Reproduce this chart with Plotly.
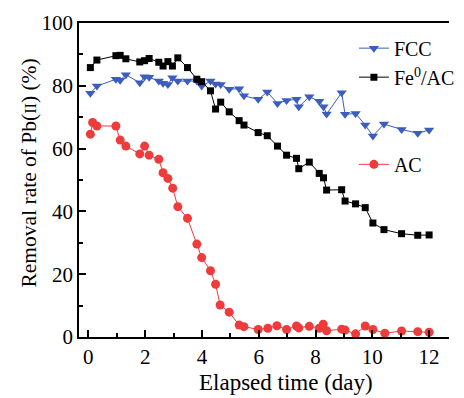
import plotly.graph_objects as go

# Sampling times (day) shared by the FCC and Fe0/AC columns
t_main = [0.07, 0.30, 0.97, 1.12, 1.32, 1.81, 1.98, 2.14, 2.48, 2.63, 2.80, 2.96,
          3.15, 3.49, 3.82, 3.99, 4.30, 4.48, 4.66, 4.96, 5.31, 5.48, 5.98, 6.30,
          6.66, 6.98, 7.33, 7.41, 7.78, 8.13, 8.28, 8.39, 8.92, 9.04, 9.41, 9.75,
          10.02, 10.41, 11.03, 11.60, 12.00]

fcc = [77.6, 79.9, 82.1, 81.8, 83.5, 81.0, 82.9, 82.7, 81.5, 80.8, 80.4, 82.6,
       81.5, 81.5, 81.5, 79.9, 81.5, 80.6, 80.4, 78.9, 79.1, 76.8, 75.7, 78.0,
       74.4, 75.3, 75.7, 73.3, 76.5, 75.1, 73.3, 71.0, 77.8, 70.9, 71.2, 67.5,
       64.0, 67.8, 66.1, 64.9, 65.9]

fe_ac = [85.8, 88.2, 89.6, 89.7, 88.6, 87.6, 88.0, 88.7, 87.5, 86.3, 87.7, 86.3,
         88.9, 85.8, 82.1, 81.3, 78.4, 72.6, 74.8, 71.7, 68.9, 67.5, 65.1, 64.1,
         60.8, 57.9, 56.9, 53.6, 55.7, 52.1, 50.7, 46.8, 46.9, 43.3, 42.4, 41.2,
         36.3, 34.2, 32.9, 32.4, 32.5]

# AC column has one extra early sample
t_ac = [0.07, 0.15, 0.30, 0.97, 1.12, 1.32, 1.81, 1.98, 2.14, 2.48, 2.63, 2.80,
        2.97, 3.15, 3.49, 3.82, 3.99, 4.30, 4.48, 4.64, 4.96, 5.31, 5.48, 5.98,
        6.32, 6.64, 6.98, 7.33, 7.41, 7.78, 8.13, 8.27, 8.39, 8.92, 9.04, 9.41,
        9.75, 10.02, 10.44, 11.03, 11.60, 12.00]

ac = [64.6, 68.3, 67.2, 67.2, 62.7, 60.8, 58.3, 60.8, 57.9, 56.6, 52.3, 50.5,
      47.4, 41.5, 37.8, 29.6, 25.3, 21.1, 16.8, 10.2, 7.9, 3.8, 3.3, 2.4,
      2.8, 3.6, 2.4, 3.5, 2.9, 3.4, 2.8, 4.1, 2.0, 2.5, 2.2, 1.0,
      3.5, 2.4, 1.2, 1.9, 1.7, 1.5]

BLUE = "#3A5DBE"
RED = "#EE3B3B"
FONT = "Liberation Serif"

fig = go.Figure()
fig.add_trace(go.Scatter(
    x=t_main, y=fcc, name="FCC", mode="lines+markers",
    line=dict(color=BLUE, width=1),
    marker=dict(symbol="triangle-down", size=9, color=BLUE),
    legend="legend", legendgroup="a"))
fig.add_trace(go.Scatter(
    x=t_main, y=fe_ac, name="Fe<sup>0</sup>/AC", mode="lines+markers",
    line=dict(color="black", width=1),
    marker=dict(symbol="square", size=7, color="black"),
    legend="legend", legendgroup="b"))
fig.add_trace(go.Scatter(
    x=t_ac, y=ac, name="AC", mode="lines+markers",
    line=dict(color=RED, width=1),
    marker=dict(symbol="circle", size=9, color=RED),
    legend="legend2", legendgroup="c"))

axis_common = dict(
    showline=True, linecolor="black", linewidth=1.5,
    ticks="inside", tickcolor="black", tickwidth=1.5,
    showgrid=False, zeroline=False,
    tickfont=dict(family=FONT, size=21, color="black"),
)

fig.update_xaxes(
    **axis_common, range=[-0.33, 12.7], dtick=2, tick0=0, ticklen=7,
    mirror=True,
    minor=dict(ticks="inside", dtick=1, tick0=0, ticklen=4, tickcolor="black", tickwidth=1.5),
)
fig.update_yaxes(
    **axis_common, range=[0, 100], dtick=20, ticklen=7,
    minor=dict(ticks="inside", dtick=10, ticklen=4, tickcolor="black", tickwidth=1.5),
)

# Axis titles placed as paper-anchored annotations
title_font = dict(family=FONT, color="black")
fig.add_annotation(
    text="Elapsed time (day)", xref="paper", yref="paper",
    x=0.56, y=-0.145, xanchor="center", yanchor="middle",
    showarrow=False, font=dict(**title_font, size=23))
fig.add_annotation(
    text="Removal rate of Pb(<span style='font-size:16px'>II</span>) (%)",
    xref="paper", yref="paper", x=-0.134, y=0.522,
    xanchor="center", yanchor="middle", textangle=-90,
    showarrow=False, font=dict(**title_font, size=21.5))

legend_style = dict(
    bgcolor="rgba(0,0,0,0)", borderwidth=0,
    font=dict(family=FONT, size=20, color="black"),
    xanchor="left", yanchor="top", tracegroupgap=0,
)
fig.update_layout(
    width=464, height=398,
    margin=dict(l=79, r=4, t=23, b=61),
    paper_bgcolor="white", plot_bgcolor="white",
    showlegend=True,
    legend=dict(**legend_style, x=0.743, y=0.982),
    legend2=dict(**legend_style, x=0.743, y=0.612),
)

fig.write_html("out.html")
